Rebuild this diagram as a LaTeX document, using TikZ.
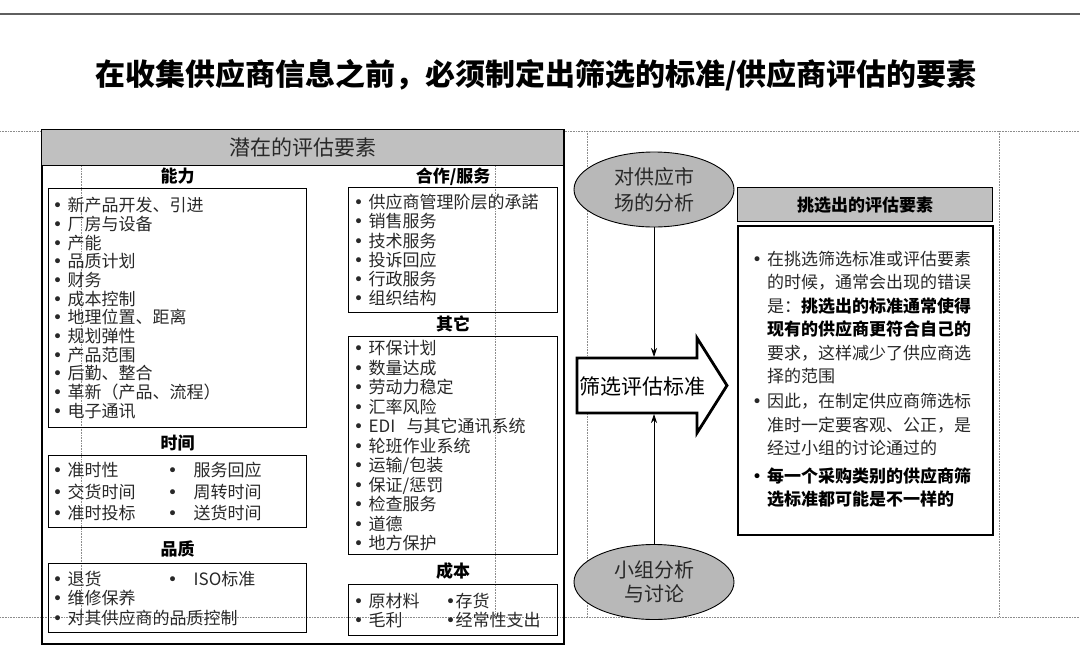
\documentclass[tikz,border=0pt]{standalone}
\usepackage{fontspec}
\setmainfont{Noto Sans CJK SC}
\newfontfamily\symfont{DejaVu Sans}
\usepackage{tikz}
\usetikzlibrary{shapes.geometric, arrows.meta, positioning, calc}

\definecolor{hdrgray}{RGB}{192,192,192}
\definecolor{ovalgray}{RGB}{184,184,184}
\definecolor{guidegray}{RGB}{140,140,140}
\definecolor{rulegray}{RGB}{95,95,95}
\definecolor{txtgray}{RGB}{40,40,40}

\newcommand{\blt}{\hspace*{-2pt}{\symfont\textbullet}}
\newcommand{\itm}{\makebox[13pt][l]{\blt}}

\begin{document}
\begin{tikzpicture}[
  x=1pt, y=1pt,
  >=Stealth,
  guide/.style={
    guidegray,
    line width=0.6pt,
    densely dotted,
  },
  frame/.style={
    draw,
    line width=1.8pt,
    inner sep=0pt,
    anchor=north west,
  },
  hdrbar/.style={
    draw,
    fill=hdrgray,
    line width=1.4pt,
    inner sep=0pt,
    anchor=north west,
  },
  listbox/.style={
    draw,
    line width=1.3pt,
    anchor=north west,
    align=left,
    inner xsep=6pt,
    inner ysep=0pt,
    text=txtgray,
    font=\fontsize{17}{#1}\selectfont,
  },
  seclabel/.style={
    font=\fontsize{17}{20}\selectfont\bfseries,
    inner sep=0pt,
  },
  oval/.style={
    ellipse,
    draw,
    fill=ovalgray,
    line width=0.9pt,
    minimum width=160pt,
    minimum height=75pt,
    inner sep=0pt,
    align=center,
    text=txtgray,
    font=\fontsize{20}{#1}\selectfont,
  },
  conn/.style={
    -{Stealth[length=9pt, width=6pt]},
    line width=0.8pt,
  },
]
\useasboundingbox (0,0) rectangle (1080,-662);

% ============================================================
% TITLE
% ============================================================
\draw[rulegray, line width=1.5pt] (0,-14) -- (1080,-14);
\node[font=\fontsize{30}{34}\selectfont\bfseries] (title) at (536,-75)
  {在收集供应商信息之前，必须制定出筛选的标准/供应商评估的要素};

% ============================================================
% GUIDES (dotted)
% ============================================================
\draw[guide] (0,-131) -- (1080,-131);
\draw[guide] (0,-617) -- (1080,-617);
\draw[guide] (81,-131)  -- (81,-617);
\draw[guide] (495,-131) -- (495,-617);
\draw[guide] (587,-131) -- (587,-617);
\draw[guide] (999,-131) -- (999,-617);

% ============================================================
% LEFT: potential evaluation elements
% ============================================================
\node[frame, minimum width=522pt, minimum height=514pt] (evalframe) at (41,-129) {};
\node[hdrbar, minimum width=522pt, minimum height=36pt,
      font=\fontsize{21}{24}\selectfont, text=txtgray]
  (evalhdr) at (41,-129) {潜在的评估要素};

% ability
\node[listbox=18.7, text width=246pt, minimum height=239pt] (abilitybox) at (48,-188)
  {\itm 新产品开发、引进\\
   \itm 厂房与设备\\
   \itm 产能\\
   \itm 品质计划\\
   \itm 财务\\
   \itm 成本控制\\
   \itm 地理位置、距离\\
   \itm 规划弹性\\
   \itm 产品范围\\
   \itm 后勤、整合\\
   \itm 革新（产品、流程）\\
   \itm 电子通讯};
\node[seclabel] (abilitylbl) at ([yshift=12pt]abilitybox.north) {能力};

% time
\node[listbox=21.5, text width=246pt, minimum height=72pt] (timebox) at (48,-455)
  {\makebox[115pt][l]{\itm 准时性}\makebox[24pt][l]{\blt}服务回应\\
   \makebox[115pt][l]{\itm 交货时间}\makebox[24pt][l]{\blt}周转时间\\
   \makebox[115pt][l]{\itm 准时投标}\makebox[24pt][l]{\blt}送货时间};
\node[seclabel] (timelbl) at ([yshift=12pt]timebox.north) {时间};

% quality
\node[listbox=19.5, text width=246pt, minimum height=69pt] (qualbox) at (48,-563)
  {\makebox[115pt][l]{\itm 退货}\makebox[24pt][l]{\blt}ISO标准\\
   \itm 维修保养\\
   \itm 对其供应商的品质控制};
\node[seclabel] (quallbl) at ([yshift=14pt]qualbox.north) {品质};

% cooperation / service
\node[listbox=19.2, inner xsep=7pt, text width=195pt, minimum height=125pt] (coopbox) at (348,-187)
  {\itm 供应商管理阶层的承諾\\
   \itm 销售服务\\
   \itm 技术服务\\
   \itm 投诉回应\\
   \itm 行政服务\\
   \itm 组织结构};
\node[seclabel] (cooplbl) at ([yshift=10pt]coopbox.north) {合作/服务};

% others
\node[listbox=19.5, inner xsep=7pt, text width=195pt, minimum height=218pt] (otherbox) at (348,-336)
  {\itm 环保计划\\
   \itm 数量达成\\
   \itm 劳动力稳定\\
   \itm 汇率风险\\
   \itm EDI\ \ 与其它通讯系统\\
   \itm 轮班作业系统\\
   \itm 运输/包装\\
   \itm 保证/惩罚\\
   \itm 检查服务\\
   \itm 道德\\
   \itm 地方保护};
\node[seclabel] (otherlbl) at ([yshift=12pt]otherbox.north) {其它};

% cost
\node[listbox=19, inner xsep=7pt, text width=195pt, minimum height=51pt] (costbox) at (348,-584)
  {\makebox[92pt][l]{\itm 原材料}\blt 存货\\
   \makebox[92pt][l]{\itm 毛利}\blt 经常性支出};
\node[seclabel] (costlbl) at ([yshift=13pt]costbox.north) {成本};

% ============================================================
% MIDDLE: criteria arrow
% ============================================================
\node[oval=26] (mktanalysis) at (654,-189.5) {对供应市\\场的分析};
\node[oval=24] (grpdiscuss)  at (654,-582)   {小组分析\\与讨论};

\draw[line width=2.8pt, fill=white, line join=miter]
  (577,-358) -- (697,-358) -- (697,-338) -- (727,-385.5)
  -- (697,-433) -- (697,-413) -- (577,-413) -- cycle;
\node[font=\fontsize{21}{24}\selectfont, inner sep=0pt] (criteria) at (642,-386) {筛选评估标准};

\coordinate (crittop) at (654,-357);
\coordinate (critbot) at (654,-414);
\draw[conn] (mktanalysis) -- (crittop);
\draw[conn] (grpdiscuss)  -- (critbot);

% ============================================================
% RIGHT: selected evaluation elements
% ============================================================
\node[hdrbar, minimum width=255pt, minimum height=34pt,
      font=\fontsize{17}{20}\selectfont\bfseries]
  (pickhdr) at (737,-187) {挑选出的评估要素};
\node[frame, line width=1.6pt, minimum width=255pt, minimum height=309pt] (pickbox) at (737,-225) {};

\node[anchor=north west, align=left, inner sep=0pt, text=txtgray,
      font=\fontsize{17}{23.4}\selectfont]
  (picktext) at ([xshift=17pt, yshift=-26pt]pickbox.north west)
  {\itm 在挑选筛选标准或评估要素\\
   \hspace*{13pt}的时候，通常会出现的错误\\
   \hspace*{13pt}是：\textbf{\textcolor{black}{挑选出的标准通常使得}}\\
   \hspace*{13pt}\textbf{\textcolor{black}{现有的供应商更符合自己的}}\\
   \hspace*{13pt}要求，这样减少了供应商选\\
   \hspace*{13pt}择的范围\\[2pt]
   \itm 因此，在制定供应商筛选标\\
   \hspace*{13pt}准时一定要客观、公正，是\\
   \hspace*{13pt}经过小组的讨论通过的\\[4pt]
   \textcolor{black}{\itm\textbf{每一个采购类别的供应商筛}}\\
   \hspace*{13pt}\textbf{\textcolor{black}{选标准都可能是不一样的}}};

\end{tikzpicture}
\end{document}
